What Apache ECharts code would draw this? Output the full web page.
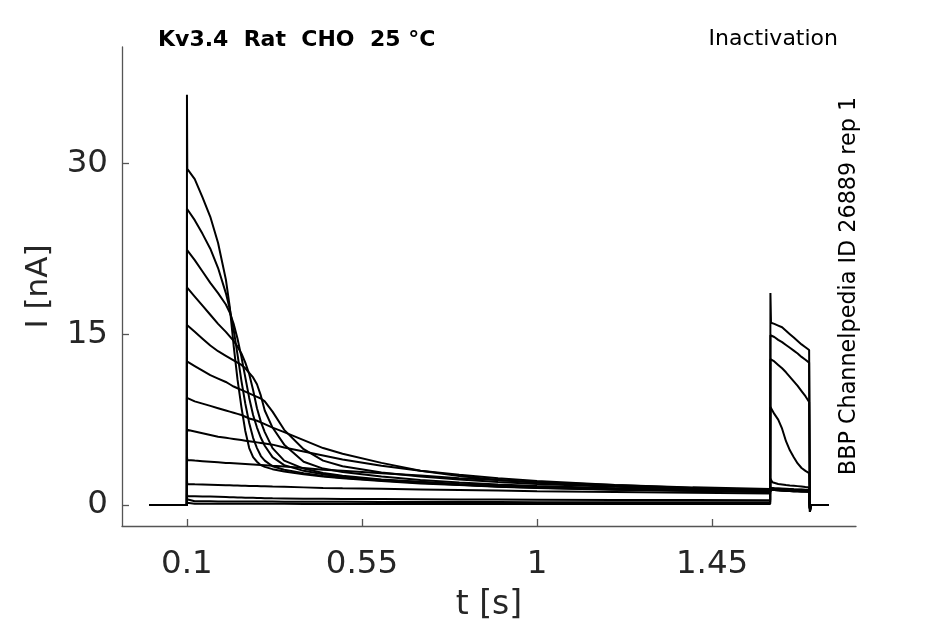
<!DOCTYPE html>
<html>
<head>
<meta charset="utf-8">
<script src="https://cdn.jsdelivr.net/npm/echarts@6/dist/echarts.min.js"></script>
<style>
html,body{margin:0;padding:0;background:#fff;}
#chart{width:945px;height:624px;}
</style>
</head>
<body>
<div id="chart"></div>
<script>
// time samples [s]
var time = [0.004, 0.0998, 0.1, 0.1008, 0.12, 0.14, 0.16, 0.18, 0.2, 0.21,
  0.22, 0.23, 0.24, 0.25, 0.26, 0.27, 0.28, 0.29, 0.3, 0.32,
  0.35, 0.4, 0.45, 0.5, 0.6, 0.7, 0.8, 0.9, 1.0, 1.2,
  1.4, 1.5995, 1.6, 1.6015, 1.605, 1.61, 1.62, 1.63, 1.64, 1.65,
  1.66, 1.67, 1.68, 1.69, 1.6995, 1.7015, 1.705, 1.75];

// current traces [nA], one per sweep
var trace1 = [0, 0, 36.0, 29.5, 28.6, 27.0, 25.3, 23.0, 19.8, 17.4,
  14.0, 11.0, 8.6, 6.5, 5.0, 4.2, 3.8, 3.5, 3.35, 3.15,
  2.95, 2.7, 2.5, 2.35, 2.1, 1.9, 1.75, 1.6, 1.5, 1.35,
  1.25, 1.15, 1.35, 1.35, 1.33, 1.31, 1.29, 1.27, 1.25, 1.23,
  1.21, 1.2, 1.19, 1.18, 1.17, -0.3, 0, 0];
var trace2 = [0, 0, 26.0, 26.0, 25.0, 23.8, 22.5, 20.8, 18.6, 17.2,
  15.4, 13.2, 10.9, 8.9, 7.2, 5.9, 5.0, 4.3, 3.9, 3.4,
  3.1, 2.8, 2.55, 2.4, 2.15, 1.95, 1.78, 1.63, 1.52, 1.37,
  1.26, 1.15, 1.35, 1.35, 1.33, 1.31, 1.29, 1.27, 1.25, 1.23,
  1.21, 1.2, 1.19, 1.18, 1.17, -0.3, 0, 0];
var trace3 = [0, 0, 22.4, 22.4, 21.5, 20.5, 19.5, 18.6, 17.6, 16.9,
  15.9, 14.6, 13.0, 11.2, 9.4, 7.9, 6.8, 5.9, 5.2, 4.2,
  3.5, 3.0, 2.7, 2.48, 2.2, 2.0, 1.8, 1.65, 1.55, 1.38,
  1.27, 1.16, 1.36, 1.36, 1.34, 1.32, 1.3, 1.28, 1.26, 1.24,
  1.22, 1.21, 1.2, 1.19, 1.18, -0.3, 0, 0];
var trace4 = [0, 0, 19.1, 19.1, 18.3, 17.5, 16.7, 15.9, 15.2, 14.8,
  14.4, 13.9, 13.3, 12.5, 11.5, 10.1, 8.5, 7.3, 6.4, 5.0,
  3.9, 3.2, 2.82, 2.58, 2.25, 2.05, 1.85, 1.7, 1.58, 1.4,
  1.28, 1.18, 1.38, 1.38, 1.36, 1.34, 1.32, 1.3, 1.28, 1.26,
  1.24, 1.23, 1.22, 1.21, 1.2, -0.3, 0, 0];
var trace5 = [0, 0, 15.8, 15.8, 15.2, 14.6, 14.0, 13.5, 13.1, 12.9,
  12.7, 12.5, 12.3, 12.0, 11.6, 11.2, 10.6, 9.6, 8.3, 6.8,
  5.3, 3.8, 3.2, 2.9, 2.5, 2.2, 1.97, 1.8, 1.67, 1.47,
  1.33, 1.22, 1.42, 1.42, 1.4, 1.38, 1.36, 1.34, 1.32, 1.3,
  1.28, 1.27, 1.26, 1.25, 1.24, -0.3, 0, 0];
var trace6 = [0, 0, 12.6, 12.6, 12.2, 11.8, 11.4, 11.1, 10.8, 10.6,
  10.4, 10.25, 10.1, 9.95, 9.8, 9.65, 9.5, 9.35, 9.1, 8.2,
  6.6, 4.9, 3.9, 3.4, 2.85, 2.5, 2.25, 2.02, 1.85, 1.6,
  1.42, 1.28, 1.48, 1.48, 1.46, 1.44, 1.42, 1.4, 1.38, 1.36,
  1.34, 1.33, 1.32, 1.31, 1.3, -0.3, 0, 0];
var trace7 = [0, 0, 9.4, 9.4, 9.1, 8.9, 8.7, 8.5, 8.3, 8.2,
  8.1, 8.0, 7.9, 7.75, 7.6, 7.5, 7.4, 7.25, 7.1, 6.8,
  6.4, 5.7, 5.0, 4.5, 3.7, 3.0, 2.55, 2.2, 1.95, 1.65,
  1.45, 1.3, 1.5, 1.5, 1.48, 1.46, 1.44, 1.42, 1.4, 1.38,
  1.36, 1.35, 1.34, 1.33, 1.32, -0.3, 0, 0];
var trace8 = [0, 0, 6.6, 6.6, 6.45, 6.3, 6.15, 6.0, 5.9, 5.85,
  5.8, 5.75, 5.7, 5.65, 5.6, 5.55, 5.5, 5.45, 5.4, 5.3,
  5.05, 4.7, 4.35, 4.0, 3.45, 3.0, 2.65, 2.35, 2.1, 1.75,
  1.5, 1.32, 1.52, 1.52, 1.5, 1.48, 1.46, 1.44, 1.42, 1.4,
  1.38, 1.37, 1.36, 1.35, 1.34, -0.3, 0, 0];
var trace9 = [0, 0, 4.3, 3.95, 3.9, 3.85, 3.8, 3.75, 3.7, 3.68,
  3.66, 3.64, 3.62, 3.6, 3.58, 3.56, 3.54, 3.52, 3.5, 3.45,
  3.38, 3.25, 3.1, 3.0, 2.8, 2.6, 2.35, 2.2, 2.0, 1.75,
  1.55, 1.4, 2.3, 2.2, 2.0, 1.9, 1.85, 1.8, 1.75, 1.72,
  1.7, 1.66, 1.62, 1.58, 1.55, -0.3, 0, 0];
var trace10 = [0, 0, 2.2, 1.85, 1.82, 1.8, 1.78, 1.76, 1.74, 1.73,
  1.72, 1.71, 1.7, 1.69, 1.68, 1.67, 1.66, 1.65, 1.64, 1.62,
  1.6, 1.55, 1.5, 1.47, 1.42, 1.37, 1.32, 1.27, 1.22, 1.15,
  1.08, 1.02, 8.6, 8.6, 8.3, 8.0, 7.5, 6.7, 5.6, 4.8,
  4.2, 3.65, 3.25, 3.0, 2.8, -0.4, 0, 0];
var trace11 = [0, 0, 1.0, 0.8, 0.78, 0.76, 0.74, 0.72, 0.7, 0.69,
  0.68, 0.67, 0.66, 0.65, 0.64, 0.63, 0.62, 0.61, 0.6, 0.59,
  0.58, 0.56, 0.55, 0.54, 0.52, 0.5, 0.49, 0.48, 0.47, 0.45,
  0.44, 0.43, 12.8, 12.8, 12.7, 12.6, 12.3, 12.0, 11.65, 11.25,
  10.85, 10.45, 10.0, 9.55, 9.05, -0.5, 0, 0];
var trace12 = [0, 0, 0.5, 0.35, 0.34, 0.33, 0.33, 0.32, 0.32, 0.32,
  0.31, 0.31, 0.31, 0.31, 0.3, 0.3, 0.3, 0.3, 0.3, 0.3,
  0.29, 0.29, 0.28, 0.28, 0.27, 0.27, 0.26, 0.26, 0.25, 0.25,
  0.24, 0.24, 14.9, 14.9, 14.8, 14.75, 14.5, 14.3, 14.05, 13.8,
  13.55, 13.3, 13.0, 12.75, 12.5, -0.6, 0, 0];
var trace13 = [0, 0, 0.2, 0.12, 0.12, 0.12, 0.12, 0.12, 0.12, 0.11,
  0.11, 0.11, 0.11, 0.11, 0.11, 0.11, 0.11, 0.11, 0.11, 0.11,
  0.11, 0.1, 0.1, 0.1, 0.1, 0.1, 0.1, 0.1, 0.1, 0.1,
  0.1, 0.1, 18.6, 16.0, 15.95, 15.9, 15.75, 15.6, 15.3, 15.0,
  14.7, 14.4, 14.1, 13.85, 13.6, -0.6, 0, 0];

var xTicks = [0.1, 0.55, 1, 1.45];
var yTicks = [0, 15, 30];

var titleText = 'Kv3.4  Rat  CHO  25 °C';
var protocolText = 'Inactivation';
var sideText = 'BBP Channelpedia ID 26889 rep 1';

var traces = [trace1, trace2, trace3, trace4, trace5, trace6, trace7,
  trace8, trace9, trace10, trace11, trace12, trace13];

var FONT = '"DejaVu Sans", "Liberation Sans", sans-serif';
var axisColor = '#555555';
var textColor = '#262626';

var series = traces.map(function (tr, i) {
  return {
    type: 'line',
    name: 'sweep ' + (i + 1),
    data: time.map(function (t, j) { return [t, tr[j]]; }),
    showSymbol: false,
    symbol: 'none',
    lineStyle: { color: '#000000', width: 2 },
    emphasis: { disabled: true },
    animation: false,
    z: 2
  };
});

var chart = echarts.init(document.getElementById('chart'), null, { renderer: 'canvas' });
chart.setOption({
  animation: false,
  backgroundColor: '#ffffff',
  grid: { left: 122, right: 89, top: 47, bottom: 98, containLabel: false, outerBoundsMode: 'none' },
  xAxis: {
    type: 'value',
    min: -0.067,
    max: 1.82,
    name: 't [s]',
    nameLocation: 'middle',
    nameGap: 63,
    nameTextStyle: { fontSize: 33, color: textColor, fontFamily: FONT },
    axisLine: { show: true, onZero: false, lineStyle: { color: axisColor, width: 1.3 } },
    axisTick: { show: true, inside: true, length: 7, customValues: xTicks, lineStyle: { color: axisColor, width: 1.3 } },
    axisLabel: {
      customValues: xTicks, fontSize: 32.5, color: textColor, fontFamily: FONT, margin: 22,
      formatter: function (v) { return String(v); }
    },
    splitLine: { show: false }
  },
  yAxis: {
    type: 'value',
    min: -1.84,
    max: 40.2,
    name: 'I [nA]',
    nameLocation: 'middle',
    nameGap: 68,
    nameTextStyle: { fontSize: 31, color: textColor, fontFamily: FONT },
    axisLine: { show: true, onZero: false, lineStyle: { color: axisColor, width: 1.3 } },
    axisTick: { show: true, inside: true, length: 7, customValues: yTicks, lineStyle: { color: axisColor, width: 1.3 } },
    axisLabel: {
      customValues: yTicks, fontSize: 32.5, color: textColor, fontFamily: FONT, margin: 14,
      formatter: function (v) { return String(v); }
    },
    splitLine: { show: false }
  },
  graphic: [
    { type: 'text', x: 158, y: 40, silent: true,
      style: { text: titleText, font: 'bold 22px ' + FONT, fill: '#000', align: 'left', verticalAlign: 'middle' } },
    { type: 'text', x: 838, y: 39, silent: true,
      style: { text: protocolText, font: '22px ' + FONT, fill: '#000', align: 'right', verticalAlign: 'middle' } },
    { type: 'text', x: 849, y: 286, rotation: Math.PI / 2, silent: true,
      style: { text: sideText, font: '22.3px ' + FONT, fill: '#000', align: 'center', verticalAlign: 'middle' } }
  ],
  series: series
});
</script>
</body>
</html>
